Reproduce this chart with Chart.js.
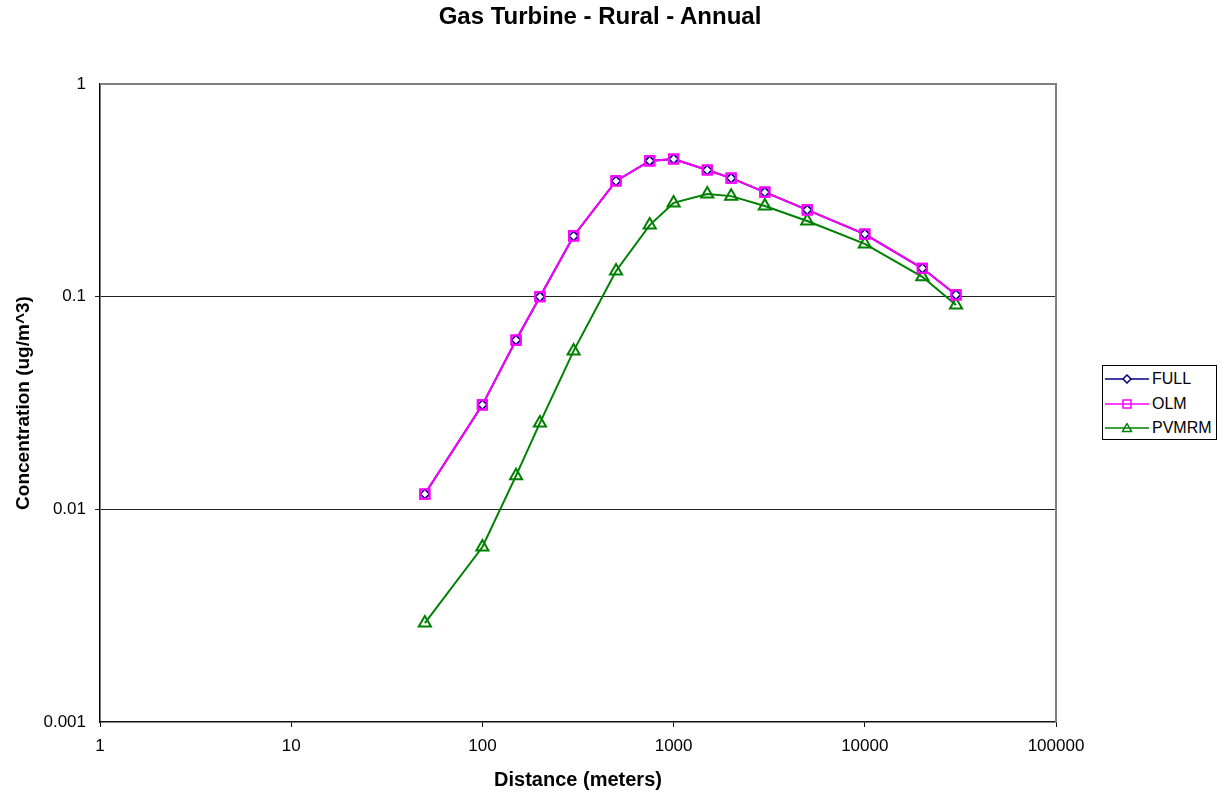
<!DOCTYPE html>
<html>
<head>
<meta charset="utf-8">
<title>Gas Turbine - Rural - Annual</title>
<script src="https://cdn.jsdelivr.net/npm/chart.js@4.4.1/dist/chart.umd.min.js"></script>
<style>
  html, body { margin: 0; padding: 0; background: #fff; }
  body { width: 1222px; height: 797px; position: relative; overflow: hidden;
         font-family: "Liberation Sans", Arial, sans-serif; }
  #wrap { position: absolute; left: 0; top: 0; width: 1222px; height: 797px; }
  #title { position: absolute; left: 400px; top: 2px; width: 400px; text-align: center;
           font-size: 24px; line-height: 28px; font-weight: bold; color: #000; }
  #legend { position: absolute; left: 1102px; top: 365px; width: 115px; height: 75px;
            border: 1px solid #000; background: #fff; box-sizing: border-box; padding-top: 1px; }
  .item { display: flex; align-items: center; height: 24.5px; font-size: 16px; color: #000; }
  .item svg { margin-left: 2px; margin-right: 3px; }
</style>
</head>
<body>
<div id="wrap"><canvas id="chart" width="1222" height="797"></canvas></div>
<div id="title">Gas Turbine - Rural - Annual</div>
<div id="legend"></div>

<script>
// === Data ===
const distances = [50, 100, 150, 200, 300, 500, 750, 1000, 1500, 2000, 3000, 5000, 10000, 20000, 30000];
const fullConc  = [0.0118, 0.031, 0.0625, 0.1, 0.193, 0.35, 0.435, 0.444, 0.394, 0.361, 0.31, 0.256, 0.197, 0.136, 0.102];
const olmConc   = [0.0118, 0.031, 0.0625, 0.1, 0.193, 0.35, 0.435, 0.444, 0.394, 0.361, 0.31, 0.256, 0.197, 0.136, 0.102];
const pvmrmConc = [0.00292, 0.00665, 0.0144, 0.0255, 0.0556, 0.132, 0.217, 0.276, 0.304, 0.297, 0.267, 0.227, 0.177, 0.124, 0.0914];

const seriesNames = ['FULL', 'OLM', 'PVMRM'];
const xTicks = [1, 10, 100, 1000, 10000, 100000];
const yTicks = [0.001, 0.01, 0.1, 1];

const toPoints = vals => distances.map((d, i) => ({ x: d, y: vals[i] }));

// redraw markers above all lines (FULL diamonds, then OLM squares)
const markersOnTop = {
  id: 'markersOnTop',
  afterDatasetsDraw(chart) {
    const ctx = chart.ctx;
    [0, 1].forEach(i => {
      chart.getDatasetMeta(i).data.forEach(p => p.draw(ctx, chart.chartArea));
    });
  }
};

// grey plot-area border on top / right
const plotBorder = {
  id: 'plotBorder',
  beforeDatasetsDraw(chart) {
    const { ctx, chartArea: a } = chart;
    ctx.save();
    ctx.strokeStyle = '#808080';
    ctx.lineWidth = 2;
    ctx.beginPath();
    ctx.moveTo(a.left, a.top);
    ctx.lineTo(a.right, a.top);
    ctx.lineTo(a.right, a.bottom);
    ctx.stroke();
    ctx.restore();
  }
};

const chart = new Chart(document.getElementById('chart'), {
  type: 'line',
  data: {
    datasets: [
      {
        label: seriesNames[0], data: toPoints(fullConc), order: 1,
        borderColor: '#000080', borderWidth: 2,
        pointStyle: 'rectRot', pointRadius: 4.5, pointBorderWidth: 1.5,
        pointBorderColor: '#000080', pointBackgroundColor: '#ffffff'
      },
      {
        label: seriesNames[1], data: toPoints(olmConc), order: 0,
        borderColor: '#ff00ff', borderWidth: 2,
        pointStyle: 'rect', pointRadius: 6.5, pointBorderWidth: 2,
        pointBorderColor: '#ff00ff', pointBackgroundColor: 'rgba(0,0,0,0)'
      },
      {
        label: seriesNames[2], data: toPoints(pvmrmConc), order: 2,
        borderColor: '#008000', borderWidth: 2,
        pointStyle: 'triangle', pointRadius: 7, pointBorderWidth: 2,
        pointBorderColor: '#008000', pointBackgroundColor: 'rgba(0,0,0,0)'
      }
    ]
  },
  options: {
    responsive: false,
    animation: false,
    layout: { padding: { top: 84, right: 166, bottom: 0, left: 0 } },
    plugins: {
      legend: { display: false },
      title: { display: false },
      tooltip: { enabled: false }
    },
    elements: { line: { tension: 0 } },
    scales: {
      x: {
        type: 'logarithmic', min: 1, max: 100000,
        afterBuildTicks: s => { s.ticks = xTicks.map(v => ({ value: v })); },
        afterFit: s => { s.height = 75; },
        ticks: {
          autoSkip: false, maxRotation: 0, padding: 9, color: '#000',
          font: { family: 'Liberation Sans', size: 17 },
          callback: v => String(v)
        },
        grid: { drawOnChartArea: false, drawTicks: true, tickLength: 5, color: '#111' },
        border: { color: '#111', width: 1.5 },
        title: {
          display: true, text: 'Distance (meters)', color: '#000',
          font: { family: 'Liberation Sans', size: 20, weight: 'bold' },
          padding: { top: 0, bottom: 5 }
        }
      },
      y: {
        type: 'logarithmic', min: 0.001, max: 1,
        afterBuildTicks: s => { s.ticks = yTicks.map(v => ({ value: v })); },
        afterFit: s => { s.width = 100; },
        ticks: {
          autoSkip: false, padding: 9, color: '#000',
          font: { family: 'Liberation Sans', size: 17 },
          callback: v => String(v)
        },
        grid: {
          drawTicks: true, tickLength: 5,
          color: c => (c.tick && (c.tick.value === 1 || c.tick.value === 0.001)) ? 'rgba(0,0,0,0)' : '#222'
        },
        border: { color: '#000', width: 1.5 },
        title: {
          display: true, text: 'Concentration (ug/m^3)', color: '#000',
          font: { family: 'Liberation Sans', size: 19, weight: 'bold' },
          padding: { top: 12, bottom: 0 }
        }
      }
    }
  },
  plugins: [plotBorder, markersOnTop]
});

// === HTML legend ===
const legend = document.getElementById('legend');
const icons = [
  '<polygon points="22,1 26,5 22,9 18,5" fill="#fff" stroke="#000080" stroke-width="1.5"/>',
  '<rect x="18" y="1" width="8" height="8" fill="none" stroke="#ff00ff" stroke-width="1.5"/>',
  '<polygon points="22,0.5 26.5,8.5 17.5,8.5" fill="none" stroke="#008000" stroke-width="1.5"/>'
];
const lineColors = ['#000080', '#ff00ff', '#008000'];
seriesNames.forEach((name, i) => {
  const row = document.createElement('div');
  row.className = 'item';
  row.innerHTML = '<svg width="44" height="10" viewBox="0 0 44 10">' +
    '<line x1="0" y1="5" x2="44" y2="5" stroke="' + lineColors[i] + '" stroke-width="1.5"/>' +
    icons[i] + '</svg><span>' + name + '</span>';
  legend.appendChild(row);
});
</script>
</body>
</html>
